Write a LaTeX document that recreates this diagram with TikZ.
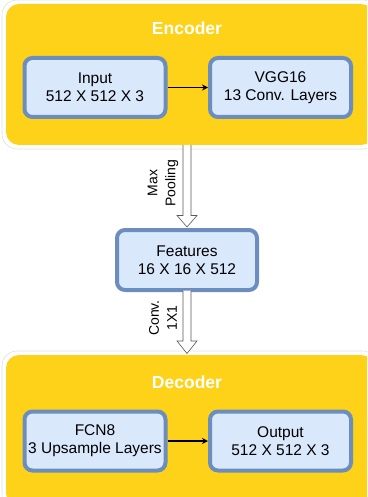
\documentclass[tikz,border=0pt]{standalone}
\usepackage{fontspec}
\setmainfont{Liberation Sans}
\usetikzlibrary{arrows.meta,calc}
\definecolor{ygold}{HTML}{FDD218}
\definecolor{bfill}{HTML}{DAE8FC}
\definecolor{bline}{HTML}{6C8EBF}
\tikzset{
  group/.style={fill=ygold, rounded corners=13pt},
  glow/.style={draw=black!12, line width=0.6pt, fill=white, rounded corners=15pt},
  blk/.style={draw=bline, line width=4pt, fill=bfill, rounded corners=8pt, minimum width=141pt, minimum height=59pt, align=center, font=\fontsize{15.5}{18}\selectfont, inner sep=0pt},
  title/.style={text=white, font=\bfseries\fontsize{17.5}{20}\selectfont},
  conn/.style={-{Stealth[length=6pt,width=6pt]}, line width=1.1pt},
  hollow/.style={draw=black!65, fill=white, line width=0.6pt, line join=miter},
  rlab/.style={rotate=90, font=\fontsize{14}{18}\selectfont, align=center}
}
\begin{document}
\begin{tikzpicture}[x=1pt,y=-1pt]
\useasboundingbox (0,0) rectangle (367,497);
\clip (0,0) rectangle (367,497);
% encoder group
\draw[glow] (2,0) rectangle (378,149);
\fill[group] (6,4) rectangle (374,145);
\node[title] (enc) at (187,28) {Encoder};
\node[blk] (in) at (95,87.5) {Input\\512 X 512 X 3};
\node[blk] (vgg) at (280.5,87.5) {VGG16\\13 Conv. Layers};
\draw[conn] (in.east) -- (vgg.west);
\coordinate (encbot) at (187,145);
% decoder group
\draw[glow] (2,351) rectangle (378,510);
\fill[group] (6,355) rectangle (374,506);
\node[title] (dec) at (187,382) {Decoder};
\node[blk] (fcn) at (95,441) {FCN8\\3 Upsample Layers};
\node[blk] (out) at (280.5,441) {Output\\512 X 512 X 3};
\draw[conn] (fcn.east) -- (out.west);
\coordinate (dectop) at (187,353.5);
% features
\node[blk, minimum width=140pt, minimum height=60pt] (feat) at (187,260) {Features\\16 X 16 X 512};
% hollow arrows
\draw[hollow] ($(encbot)+(-4,0)$) -- ($(feat.north)+(-4,-12.5)$) -- ($(feat.north)+(-10,-12.5)$)
  -- ($(feat.north)+(0,-1)$) -- ($(feat.north)+(10,-12.5)$) -- ($(feat.north)+(4,-12.5)$) -- ($(encbot)+(4,0)$);
\draw[hollow] ($(feat.south)+(-4,-1.5)$) -- ($(dectop)+(-4,-12.5)$) -- ($(dectop)+(-10,-12.5)$)
  -- (dectop) -- ($(dectop)+(10,-12.5)$) -- ($(dectop)+(4,-12.5)$) -- ($(feat.south)+(4,-1.5)$);
\node[rlab] (mp) at (163,183) {Max\\Pooling};
\node[rlab] (cv) at (163,318) {Conv.\\1X1};
\end{tikzpicture}
\end{document}
